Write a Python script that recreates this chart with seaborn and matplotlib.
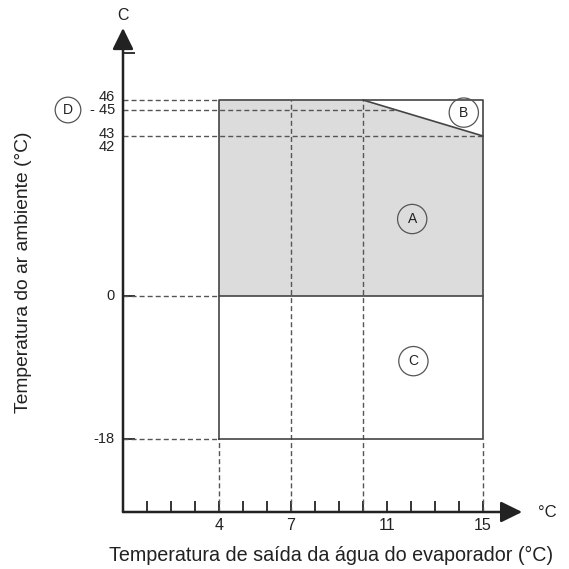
import numpy as np
import seaborn as sns
import matplotlib.pyplot as plt

# x axis: evaporator leaving water temperature
X_TICKS = list(range(1, 16))
X_LABELED = [4, 7, 11, 15]

# y axis: ambient air temperature (schematic, not to scale)
Y_LEVELS = [46, 45, 43, 42, 0, -18]
Y_LABELS = ['46', '- 45', '43', '42', '0', '-18']
Y_LABEL_NUDGE = [3, 0, 2, 0, 0, 0]  # px, to keep close labels apart
Y_MARKS = [-18, 0, 50.7]

# operating envelope
BOX_X = [4, 4, 15, 15, 4]
BOX_Y = [-18, 46, 46, -18, -18]
SLOPE_X = [10, 15]
SLOPE_Y = [46, 43]
ZONE_A_X = [4, 4, 10, 15, 15]
ZONE_A_Y = [0, 46, 46, 43, 0]
SPLIT_X = [4, 15]
SPLIT_Y = [0, 0]

# dashed guide lines
V_GUIDES_X = [4, 7, 10, 15]
V_GUIDES_TOP = [-18, 46, 46, -18]
H_GUIDES_Y = [46, 43, 0, -18]
H_GUIDES_END = [4, 15, 4, 4]

ZONE_NAMES = ['A', 'B', 'C']
ZONE_X = [12.05, 14.2, 12.1]
ZONE_Y = [21.7, 44.8, -8.2]

# piecewise scale for the schematic y axis (height above x axis, px)
Y_REF = [-1000, -18, 0, 42, 43, 45, 46, 1000]
Y_PIX = [73 - 982 * 143 / 18, 73, 216, 365, 376, 402, 412, 412 + 954 * 10]


def fwd(v):
    return np.interp(v, Y_REF, Y_PIX)


def inv(p):
    return np.interp(p, Y_PIX, Y_REF)


sns.set_theme(style='white')
plt.rcParams['font.family'] = ['Liberation Sans', 'DejaVu Sans']

fig = plt.figure(figsize=(5.69, 5.69), dpi=100)
ax = fig.add_axes([0, 0, 1, 1])
ax.set_yscale('function', functions=(fwd, inv))
ax.set_xlim(-123 / 24, (569 - 123) / 24)
ax.set_ylim(inv(-57), inv(512))

y0 = float(inv(0))
x_tip = 16.63
y_tip = float(inv(484))

guide = dict(color='#555555', lw=1.0, linestyle=(0, (3.6, 2.2)))
dark = '#333333'
ink = '#222222'

# grey zone A
ax.fill(ZONE_A_X, ZONE_A_Y, color='#dcdcdc', lw=0, zorder=1)

# dashed guides
for x, top in zip(V_GUIDES_X, V_GUIDES_TOP):
    ax.plot([x, x], [y0, top], zorder=2, **guide)
for y, end in zip(H_GUIDES_Y, H_GUIDES_END):
    ax.plot([0, end], [y, y], zorder=2, **guide)
# 45 line runs until the sloped edge
f46, f45, f43 = fwd(46), fwd(45), fwd(43)
x45 = 10 + 5 * (f46 - f45) / (f46 - f43)
ax.plot([0, x45], [45, 45], zorder=2, **guide)

# envelope outline
for xs, ys in [(BOX_X, BOX_Y), (SLOPE_X, SLOPE_Y), (SPLIT_X, SPLIT_Y)]:
    sns.lineplot(x=xs, y=ys, sort=False, estimator=None, color='#444444',
                 lw=1.2, ax=ax, zorder=3)

# axes with arrow heads
for s in ax.spines.values():
    s.set_visible(False)
ax.spines['left'].set_position(('data', 0))
ax.spines['bottom'].set_position(('data', y0))
arrow = dict(arrowstyle='-|>,head_length=0.65,head_width=0.32', lw=1.8,
             color=ink, mutation_scale=20, shrinkA=0, shrinkB=0)
ax.annotate('', xy=(x_tip, y0), xytext=(0, y0), arrowprops=arrow, zorder=4)
ax.annotate('', xy=(0, y_tip), xytext=(0, y0), arrowprops=arrow, zorder=4)

ax.set_xticks(X_TICKS, labels=[str(t) if t in X_LABELED else '' for t in X_TICKS])
ax.tick_params(axis='x', direction='in', length=8, width=1.4, color=dark,
               pad=4, labelsize=11.5, labelcolor=ink, bottom=True)
ax.set_yticks([])
ax.set_yticks(Y_MARKS, minor=True)
ax.tick_params(axis='y', which='minor', direction='in', length=8.5, width=1.4,
               color=dark, left=True)
for lev, lab, dy in zip(Y_LEVELS, Y_LABELS, Y_LABEL_NUDGE):
    ax.annotate(lab, xy=(0, lev), xytext=(-8, dy), textcoords='offset pixels',
                ha='right', va='center', fontsize=10.5, color=ink)

# axis captions
ax.annotate('C', xy=(0, y_tip), xytext=(0, 13), textcoords='offset pixels',
            ha='center', va='center', fontsize=11.5, color=ink)
ax.annotate('°C', xy=(x_tip, y0), xytext=(25, -1), textcoords='offset pixels',
            ha='center', va='center', fontsize=12, color=ink)
ax.annotate('D', xy=(0, 45), xytext=(-55, 0), textcoords='offset pixels',
            ha='center', va='center', fontsize=10, color=ink,
            bbox=dict(boxstyle='circle,pad=0.42', fc='none', ec='#555555', lw=0.9))

for name, x, y in zip(ZONE_NAMES, ZONE_X, ZONE_Y):
    ax.text(x, y, name, ha='center', va='center', fontsize=10, color=ink,
            bbox=dict(boxstyle='circle,pad=0.55', fc='none', ec='#555555', lw=0.9))

ax.text(331 / 569, 1 - 555 / 569, 'Temperatura de saída da água do evaporador (°C)',
        transform=ax.transAxes, ha='center', va='center', fontsize=14.2,
        color=ink)
ax.text(24 / 569, 1 - 272 / 569, 'Temperatura do ar ambiente (°C)',
        transform=ax.transAxes, ha='center', va='center', rotation=90,
        fontsize=13.9, color=ink)

fig.savefig('out.png', dpi=100)
